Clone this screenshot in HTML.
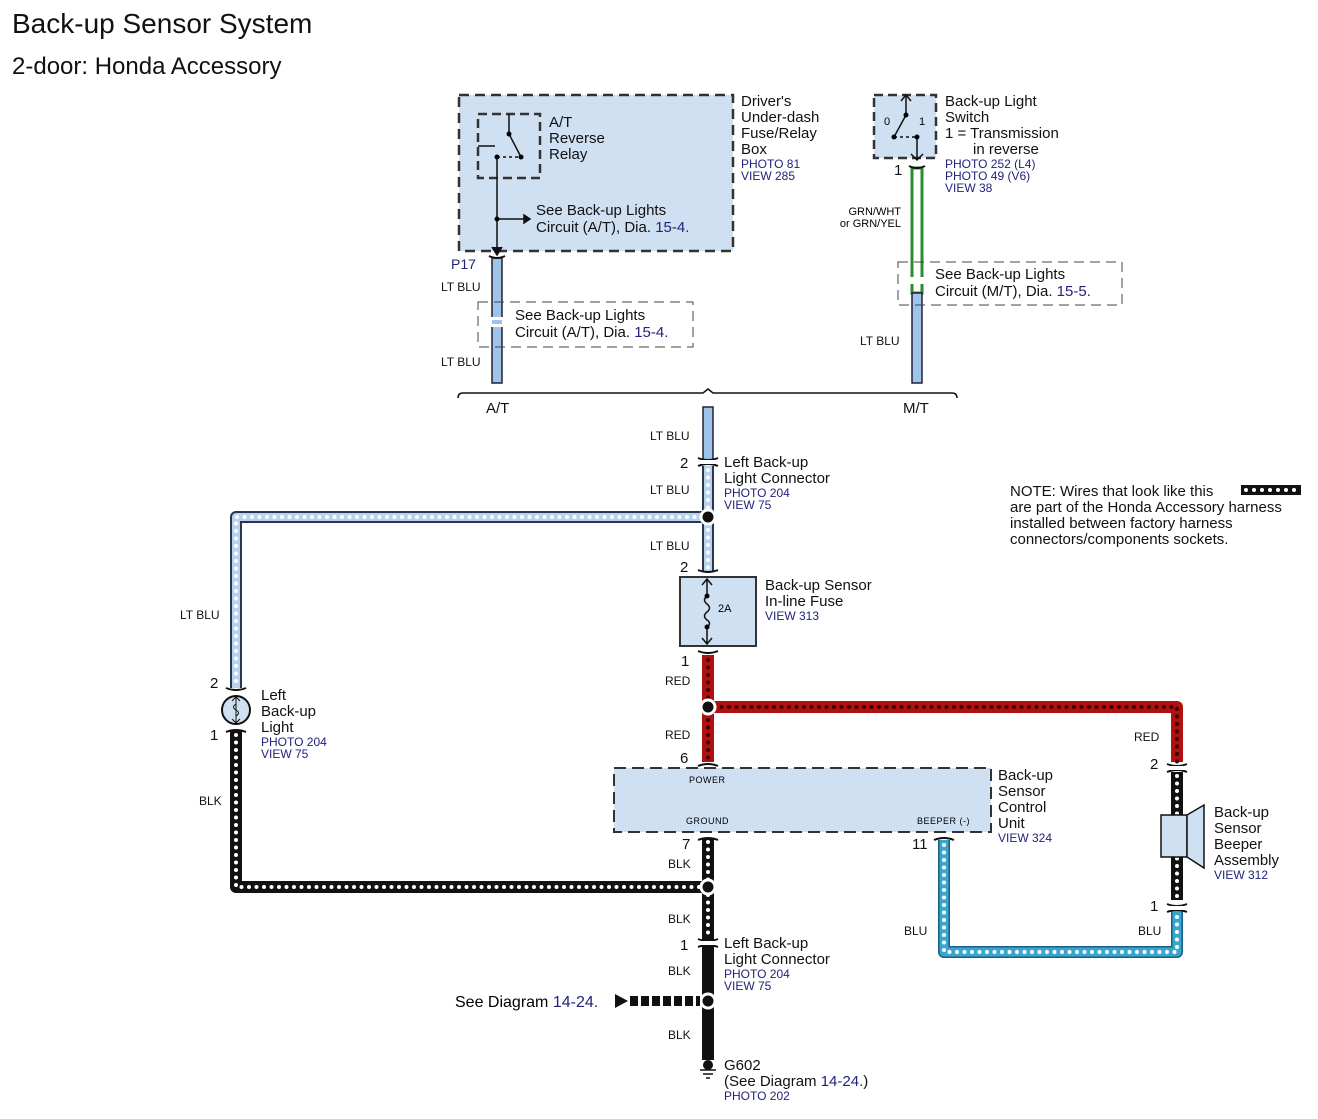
<!DOCTYPE html>
<html><head><meta charset="utf-8"><style>
body{margin:0;background:#fff;}
svg{display:block;font-family:"Liberation Sans",sans-serif;}
.t{font-size:15px;fill:#111;}
.s{font-size:12px;fill:#22227a;}
.w{font-size:12px;fill:#111;}
.n{font-size:15px;fill:#111;}
.b{fill:#22227a;}
</style></head><body>
<svg width="1318" height="1119" viewBox="0 0 1318 1119">
<text x="12" y="33" font-size="28" fill="#111">Back-up Sensor System</text>
<text x="12" y="74" font-size="24" fill="#111">2-door: Honda Accessory</text>

<!-- Fuse box -->
<rect x="459" y="95" width="274" height="156" fill="#cfe0f2" stroke="#333" stroke-width="2.5" stroke-dasharray="10 6"/>
<rect x="478" y="114" width="62" height="64" fill="none" stroke="#333" stroke-width="2.5" stroke-dasharray="9 5"/>
<path d="M509,114 V134 L521,157 M478,146 H495" stroke="#111" stroke-width="1.5" fill="none"/>
<path d="M497,157 H521" stroke="#111" stroke-width="1.5" stroke-dasharray="3 3"/>
<circle cx="509" cy="134" r="2.5"/><circle cx="521" cy="157" r="2.5"/><circle cx="497" cy="157" r="2.5"/>
<path d="M497,157 V254 M497,219 H524" stroke="#111" stroke-width="1.5"/>
<circle cx="497" cy="219" r="2.5"/>
<path d="M524,215 L530,219 L524,223Z M492,247 L497,255 L502,247" fill="#111" stroke="#111" stroke-width="1.5"/>
<text x="549" y="127" class="t">A/T</text><text x="549" y="143" class="t">Reverse</text><text x="549" y="159" class="t">Relay</text>
<text x="536" y="215" class="t">See Back-up Lights</text>
<text x="536" y="232" class="t">Circuit (A/T), Dia. <tspan class="b">15-4.</tspan></text>
<text x="741" y="106" class="t">Driver's</text><text x="741" y="122" class="t">Under-dash</text><text x="741" y="138" class="t">Fuse/Relay</text><text x="741" y="154" class="t">Box</text>
<text x="741" y="168" class="s">PHOTO 81</text><text x="741" y="180" class="s">VIEW 285</text>

<!-- A/T wire -->
<rect x="492" y="258" width="10" height="125" fill="#9ec4ea" stroke="#223" stroke-width="1.5"/>
<path d="M489,256 Q497,260 505,256" stroke="#111" stroke-width="2" fill="none"/>
<text x="451" y="269" font-size="14" fill="#22227a">P17</text>
<text x="441" y="291" class="w">LT BLU</text>
<text x="441" y="366" class="w">LT BLU</text>
<rect x="478" y="302" width="215" height="45" fill="none" stroke="#444" stroke-width="1" stroke-dasharray="10 6"/>
<rect x="490" y="317" width="14" height="10" fill="#fff"/>
<rect x="492" y="320" width="10" height="4" fill="#9ec4ea"/>
<text x="515" y="320" class="t">See Back-up Lights</text>
<text x="515" y="337" class="t">Circuit (A/T), Dia. <tspan class="b">15-4.</tspan></text>

<!-- M/T switch -->
<rect x="874" y="95" width="62" height="63" fill="#cfe0f2" stroke="#333" stroke-width="2.5" stroke-dasharray="9 5"/>
<path d="M906,95 V115 L894,137 M917,137 V160" stroke="#111" stroke-width="1.5" fill="none"/>
<path d="M894,137 H917" stroke="#111" stroke-width="1.5" stroke-dasharray="3 3"/>
<path d="M901,101 L906,95 L911,101 M911,154 L917,160 L923,154" stroke="#111" stroke-width="1.5" fill="none"/>
<circle cx="906" cy="115" r="2.5"/><circle cx="894" cy="137" r="2.5"/><circle cx="917" cy="137" r="2.5"/>
<text x="884" y="125" font-size="11">0</text><text x="919" y="125" font-size="11">1</text>
<text x="945" y="106" class="t">Back-up Light</text><text x="945" y="122" class="t">Switch</text>
<text x="945" y="138" class="t">1 = Transmission</text><text x="973" y="154" class="t">in reverse</text>
<text x="945" y="168" class="s">PHOTO 252 (L4)</text><text x="945" y="180" class="s">PHOTO 49 (V6)</text><text x="945" y="192" class="s">VIEW 38</text>
<text x="894" y="175" class="n">1</text>
<rect x="912" y="168" width="10" height="125" fill="#fff" stroke="#2e8b2e" stroke-width="3"/>
<rect x="912" y="293" width="10" height="90" fill="#9ec4ea" stroke="#223" stroke-width="1.5"/>
<path d="M909,166 Q917,170 925,166" stroke="#111" stroke-width="2" fill="none"/>
<rect x="898" y="262" width="224" height="43" fill="none" stroke="#444" stroke-width="1" stroke-dasharray="10 6"/>
<rect x="908" y="277" width="18" height="7" fill="#fff"/>
<text x="901" y="215" font-size="11" text-anchor="end">GRN/WHT</text>
<text x="901" y="227" font-size="11" text-anchor="end">or GRN/YEL</text>
<text x="935" y="279" class="t">See Back-up Lights</text>
<text x="935" y="296" class="t">Circuit (M/T), Dia. <tspan class="b">15-5.</tspan></text>
<text x="860" y="345" class="w">LT BLU</text>

<!-- bracket -->
<path d="M458,398 Q458,393 463,393 H703 L708,389 L713,393 H952 Q957,393 957,398" stroke="#111" stroke-width="1.5" fill="none"/>
<text x="486" y="413" class="t">A/T</text><text x="903" y="413" class="t">M/T</text>

<!-- center lt blu plain -->
<rect x="703" y="407" width="10" height="53" fill="#9ec4ea" stroke="#223" stroke-width="1.5"/>
<text x="650" y="440" class="w">LT BLU</text>
<text x="680" y="468" class="n">2</text>
<text x="724" y="467" class="t">Left Back-up</text><text x="724" y="483" class="t">Light Connector</text>
<text x="724" y="497" class="s">PHOTO 204</text><text x="724" y="509" class="s">VIEW 75</text>
<text x="650" y="494" class="w">LT BLU</text>
<text x="650" y="550" class="w">LT BLU</text>

<!-- Accessory wires -->
<g fill="none" stroke-linejoin="round">
 <path d="M708,466 V572 M708,517 H236 V688" stroke="#2a3550" stroke-width="12"/>
 <path d="M708,466 V572 M708,517 H236 V688" stroke="#b9d3ee" stroke-width="8"/>
 <path d="M708,470 V572 M702,517 H236 V688" stroke="#fff" stroke-width="4" stroke-linecap="round" stroke-dasharray="0 7.5"/>
 <path d="M708,655 V762 M708,707 H1177 V762" stroke="#b01010" stroke-width="12"/>
 <path d="M708,660 V762 M714,707 H1177 V762" stroke="#3a0000" stroke-width="4" stroke-linecap="round" stroke-dasharray="0 7.5"/>
 <path d="M236,731 V887 H708 M708,838 V945 M1177,772 V900" stroke="#111" stroke-width="12"/>
 <path d="M236,735 V887 H700 M708,842 V880 M708,895 V940 M1177,776 V900" stroke="#fff" stroke-width="4" stroke-linecap="round" stroke-dasharray="0 7.5"/>
 <path d="M944,840 V952 H1177 V910" stroke="#1a5f80" stroke-width="12"/>
 <path d="M944,840 V952 H1177 V910" stroke="#3aa6cf" stroke-width="9"/>
 <path d="M944,845 V952 H1177 V912" stroke="#fff" stroke-width="4" stroke-linecap="round" stroke-dasharray="0 7.5"/>
 <path d="M708,945 V1060" stroke="#111" stroke-width="12"/>
</g>
<g fill="none" stroke="#111" stroke-width="2">
<path d="M698,458 Q708,462 718,458 M698,466 Q708,462 718,466"/>
<path d="M698,570 Q708,574 718,570"/>
<path d="M698,651 Q708,655 718,651"/>
<path d="M698,766 Q708,762 718,766"/>
<path d="M698,840 Q708,836 718,840"/>
<path d="M934,840 Q944,836 954,840"/>
<path d="M698,939 Q708,943 718,939 M698,947 Q708,943 718,947"/>
<path d="M1167,764 Q1177,768 1187,764 M1167,772 Q1177,768 1187,772"/>
<path d="M1167,904 Q1177,908 1187,904 M1167,912 Q1177,908 1187,912"/>
<path d="M226,688 Q236,692 246,688 M226,732 Q236,728 246,732"/>
</g>
<rect x="698" y="460" width="20" height="4" fill="#fff"/>
<rect x="698" y="941" width="20" height="4" fill="#fff"/>
<rect x="1167" y="766" width="20" height="4" fill="#fff"/>
<rect x="1167" y="906" width="20" height="4" fill="#fff"/>
<g fill="#111" stroke="#fff" stroke-width="3">
<circle cx="708" cy="517" r="7"/><circle cx="708" cy="707" r="7"/><circle cx="708" cy="887" r="7"/><circle cx="708" cy="1001" r="7"/>
</g>

<!-- fuse -->
<rect x="680" y="577" width="76" height="69" fill="#cfe0f2" stroke="#333" stroke-width="2"/>
<path d="M707,579 V596 M707,627 V644 M702,585 L707,579 L712,585 M702,638 L707,644 L712,638" stroke="#111" stroke-width="1.5" fill="none"/>
<path d="M707,596 q-5,4 0,8 q5,4 0,8 q-5,4 0,8 q5,3 0,7" stroke="#111" stroke-width="1.5" fill="none"/>
<circle cx="707" cy="596" r="2.5"/><circle cx="707" cy="627" r="2.5"/>
<text x="718" y="612" font-size="11">2A</text>
<text x="680" y="572" class="n">2</text>
<text x="765" y="590" class="t">Back-up Sensor</text><text x="765" y="606" class="t">In-line Fuse</text><text x="765" y="620" class="s">VIEW 313</text>
<text x="681" y="666" class="n">1</text>
<text x="665" y="685" class="w">RED</text><text x="665" y="739" class="w">RED</text>
<text x="680" y="763" class="n">6</text>

<!-- control unit -->
<rect x="614" y="768" width="377" height="64" fill="#cfe0f2" stroke="#333" stroke-width="2" stroke-dasharray="12 6"/>
<text x="689" y="783" font-size="9" letter-spacing="0.5">POWER</text>
<text x="686" y="824" font-size="9" letter-spacing="0.5">GROUND</text>
<text x="917" y="824" font-size="9" letter-spacing="0.5">BEEPER (-)</text>
<text x="998" y="780" class="t">Back-up</text><text x="998" y="796" class="t">Sensor</text><text x="998" y="812" class="t">Control</text><text x="998" y="828" class="t">Unit</text>
<text x="998" y="842" class="s">VIEW 324</text>
<text x="682" y="849" class="n">7</text><text x="912" y="849" class="n">11</text>
<text x="668" y="868" class="w">BLK</text><text x="668" y="923" class="w">BLK</text>
<text x="668" y="975" class="w">BLK</text><text x="668" y="1039" class="w">BLK</text>
<text x="680" y="950" class="n">1</text>
<text x="724" y="948" class="t">Left Back-up</text><text x="724" y="964" class="t">Light Connector</text>
<text x="724" y="978" class="s">PHOTO 204</text><text x="724" y="990" class="s">VIEW 75</text>

<path d="M615,994 L628,1001 L615,1008Z" fill="#111"/>
<path d="M630,1001 H700" stroke="#111" stroke-width="10" stroke-dasharray="8 3"/>
<text x="455" y="1007" font-size="16">See Diagram <tspan class="b">14-24.</tspan></text>
<circle cx="708" cy="1065" r="5" fill="#111"/>
<path d="M700,1070 H716 M703,1074 H713 M706,1078 H710" stroke="#111" stroke-width="1.5"/>
<text x="724" y="1070" class="t">G602</text>
<text x="724" y="1086" class="t">(See Diagram <tspan class="b">14-24.</tspan>)</text>
<text x="724" y="1100" class="s">PHOTO 202</text>

<!-- left light -->
<circle cx="236" cy="710" r="14" fill="#cfe0f2" stroke="#111" stroke-width="2"/>
<path d="M236,697 V723 M232,701 L236,697 L240,701 M232,719 L236,723 L240,719" stroke="#111" stroke-width="1" fill="none"/>
<path d="M236,704 q-5,3 0,6 q5,3 0,6" stroke="#111" stroke-width="1" fill="none"/>
<text x="210" y="688" class="n">2</text><text x="210" y="740" class="n">1</text>
<text x="261" y="700" class="t">Left</text><text x="261" y="716" class="t">Back-up</text><text x="261" y="732" class="t">Light</text>
<text x="261" y="746" class="s">PHOTO 204</text><text x="261" y="758" class="s">VIEW 75</text>
<text x="180" y="619" class="w">LT BLU</text>
<text x="199" y="805" class="w">BLK</text>

<!-- beeper -->
<rect x="1161" y="815" width="26" height="42" fill="#cfe0f2" stroke="#111" stroke-width="1.5"/>
<path d="M1187,815 L1204,805 V868 L1187,857Z" fill="#cfe0f2" stroke="#111" stroke-width="1.5"/>
<text x="1214" y="817" class="t">Back-up</text><text x="1214" y="833" class="t">Sensor</text><text x="1214" y="849" class="t">Beeper</text><text x="1214" y="865" class="t">Assembly</text>
<text x="1214" y="879" class="s">VIEW 312</text>
<text x="1134" y="741" class="w">RED</text>
<text x="1150" y="769" class="n">2</text><text x="1150" y="911" class="n">1</text>
<text x="1138" y="935" class="w">BLU</text><text x="904" y="935" class="w">BLU</text>

<!-- note -->
<text x="1010" y="496" class="t">NOTE: Wires that look like this</text>
<text x="1010" y="512" class="t">are part of the Honda Accessory harness</text>
<text x="1010" y="528" class="t">installed between factory harness</text>
<text x="1010" y="544" class="t">connectors/components sockets.</text>
<path d="M1241,490 H1301" stroke="#111" stroke-width="10"/>
<path d="M1246,490 H1298" stroke="#fff" stroke-width="4" stroke-linecap="round" stroke-dasharray="0 8"/>
</svg>
</body></html>
